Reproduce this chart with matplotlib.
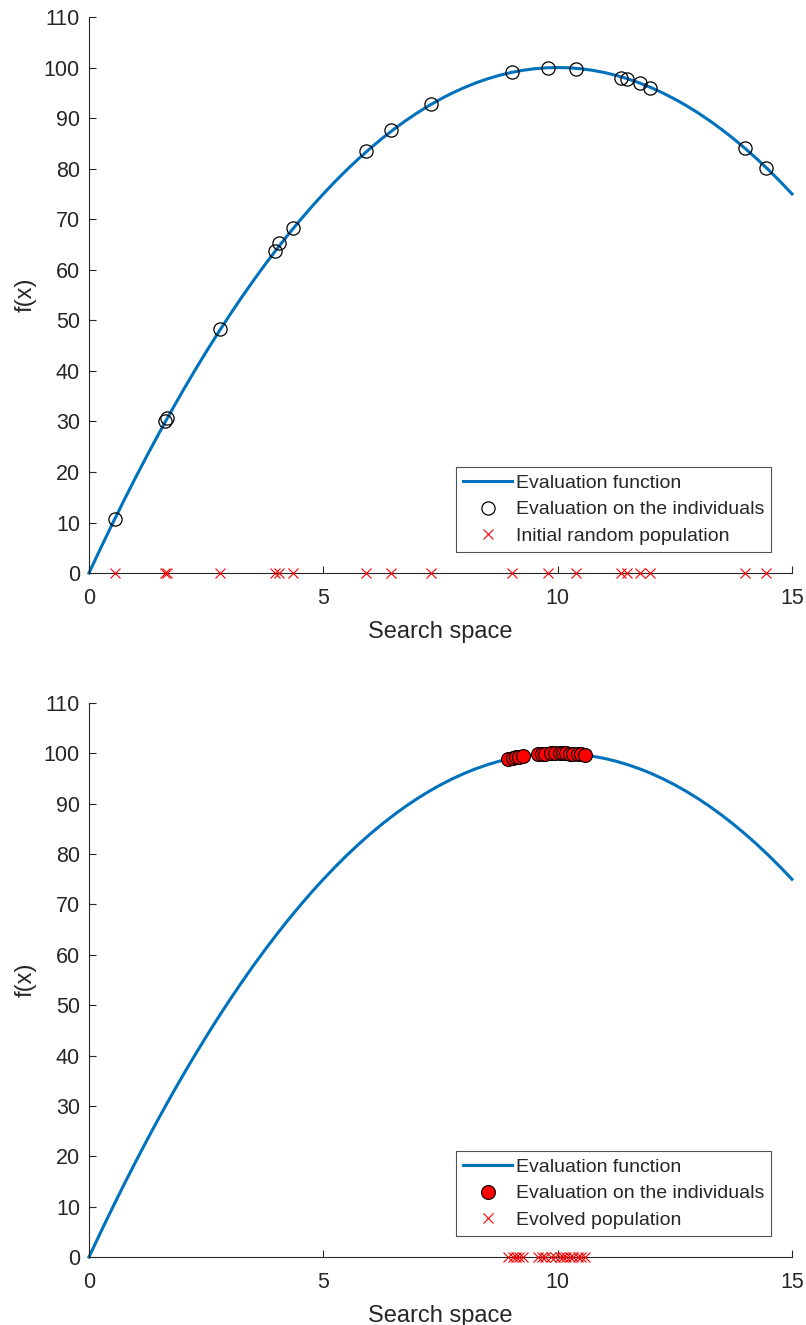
import matplotlib
matplotlib.use('Agg')
import matplotlib.pyplot as plt

plt.rcParams['font.family'] = ['Liberation Sans', 'DejaVu Sans']

# evaluation function
curve_x = [0, 0.25, 0.5, 0.75, 1, 1.25, 1.5, 1.75, 2, 2.25, 2.5, 2.75, 3,
           3.25, 3.5, 3.75, 4, 4.25, 4.5, 4.75, 5, 5.25, 5.5, 5.75, 6, 6.25,
           6.5, 6.75, 7, 7.25, 7.5, 7.75, 8, 8.25, 8.5, 8.75, 9, 9.25, 9.5,
           9.75, 10, 10.25, 10.5, 10.75, 11, 11.25, 11.5, 11.75, 12, 12.25,
           12.5, 12.75, 13, 13.25, 13.5, 13.75, 14, 14.25, 14.5, 14.75, 15]
curve_y = [0, 4.94, 9.75, 14.44, 19, 23.44, 27.75, 31.94, 36, 39.94, 43.75,
           47.44, 51, 54.44, 57.75, 60.94, 64, 66.94, 69.75, 72.44, 75, 77.44,
           79.75, 81.94, 84, 85.94, 87.75, 89.44, 91, 92.44, 93.75, 94.94, 96,
           96.94, 97.75, 98.44, 99, 99.44, 99.75, 99.94, 100, 99.94, 99.75,
           99.44, 99, 98.44, 97.75, 96.94, 96, 94.94, 93.75, 92.44, 91, 89.44,
           87.75, 85.94, 84, 81.94, 79.75, 77.44, 75]

# initial random population and their evaluations
init_x = [0.55, 1.63, 1.66, 2.8, 3.97, 4.06, 4.36, 5.91, 6.45, 7.3, 9.03,
          9.8, 10.4, 11.35, 11.47, 11.75, 11.96, 14.0, 14.45]
init_y = [10.7, 30.0, 30.6, 48.2, 63.7, 65.3, 68.2, 83.4, 87.7, 92.7, 99.1,
          100.0, 99.8, 98.0, 97.8, 97.0, 96.0, 84.0, 80.2]

# evolved population and their evaluations
evo_x = [8.95, 9.05, 9.12, 9.18, 9.26, 9.58, 9.66, 9.74, 9.86, 9.95, 10.05,
         10.12, 10.18, 10.26, 10.32, 10.43, 10.5, 10.58]
evo_y = [98.9, 99.1, 99.2, 99.3, 99.5, 99.8, 99.9, 99.9, 100.0, 100.0, 100.0,
         100.0, 100.0, 99.9, 99.9, 99.8, 99.8, 99.7]

TXT = '#262626'
BLUE = '#0072BD'

fig = plt.figure(figsize=(8.06, 13.25), dpi=100)
ax1 = fig.add_axes([0.1104, 0.5675, 0.8722, 0.4197])
ax2 = fig.add_axes([0.1104, 0.0513, 0.8722, 0.4181])


def style(ax):
    ax.set_xlim(0, 15)
    ax.set_ylim(0, 110)
    ax.set_xticks([0, 5, 10, 15])
    ax.set_yticks(range(0, 111, 10))
    ax.spines['top'].set_visible(False)
    ax.spines['right'].set_visible(False)
    for s in ('left', 'bottom'):
        ax.spines[s].set_color(TXT)
        ax.spines[s].set_linewidth(0.8)
    ax.tick_params(direction='in', length=5, width=0.8, colors=TXT,
                   labelsize=15.5)
    ax.tick_params(axis='y', pad=6.5)
    ax.tick_params(axis='x', pad=11)
    ax.set_xlabel('Search space', fontsize=17, color=TXT, labelpad=8.5)
    ax.set_ylabel('f(x)', fontsize=17, color=TXT, labelpad=5)


def legend(ax):
    leg = ax.legend(loc='lower right', bbox_to_anchor=(0.970, 0.038),
                    borderaxespad=0, fontsize=14, frameon=True,
                    fancybox=False, handlelength=2.5, borderpad=0.35,
                    labelspacing=0.47, handletextpad=0.2)
    leg.get_frame().set_edgecolor(TXT)
    leg.get_frame().set_linewidth(0.8)
    for t in leg.get_texts():
        t.set_color(TXT)


# ========== top: initial population ==========
ax1.plot(curve_x, curve_y, '-', color=BLUE, linewidth=2.2,
         label='Evaluation function', clip_on=False, zorder=2)
ax1.plot(init_x, init_y, 'o', markersize=9.5, markerfacecolor='none',
         markeredgecolor='black', markeredgewidth=0.9,
         label='Evaluation on the individuals', zorder=3)
ax1.plot(init_x, [0] * len(init_x), 'x', markersize=7, color='red',
         markeredgewidth=0.8, label='Initial random population',
         clip_on=False, zorder=4)
style(ax1)
legend(ax1)

# ========== bottom: evolved population ==========
ax2.plot(curve_x, curve_y, '-', color=BLUE, linewidth=2.2,
         label='Evaluation function', clip_on=False, zorder=2)
ax2.plot(evo_x, evo_y, 'o', markersize=10, markerfacecolor='red',
         markeredgecolor='black', markeredgewidth=0.8,
         label='Evaluation on the individuals', zorder=3)
ax2.plot(evo_x, [0] * len(evo_x), 'x', markersize=7, color='red',
         markeredgewidth=0.8, label='Evolved population',
         clip_on=False, zorder=4)
style(ax2)
legend(ax2)

fig.savefig('out.png', dpi=100)
